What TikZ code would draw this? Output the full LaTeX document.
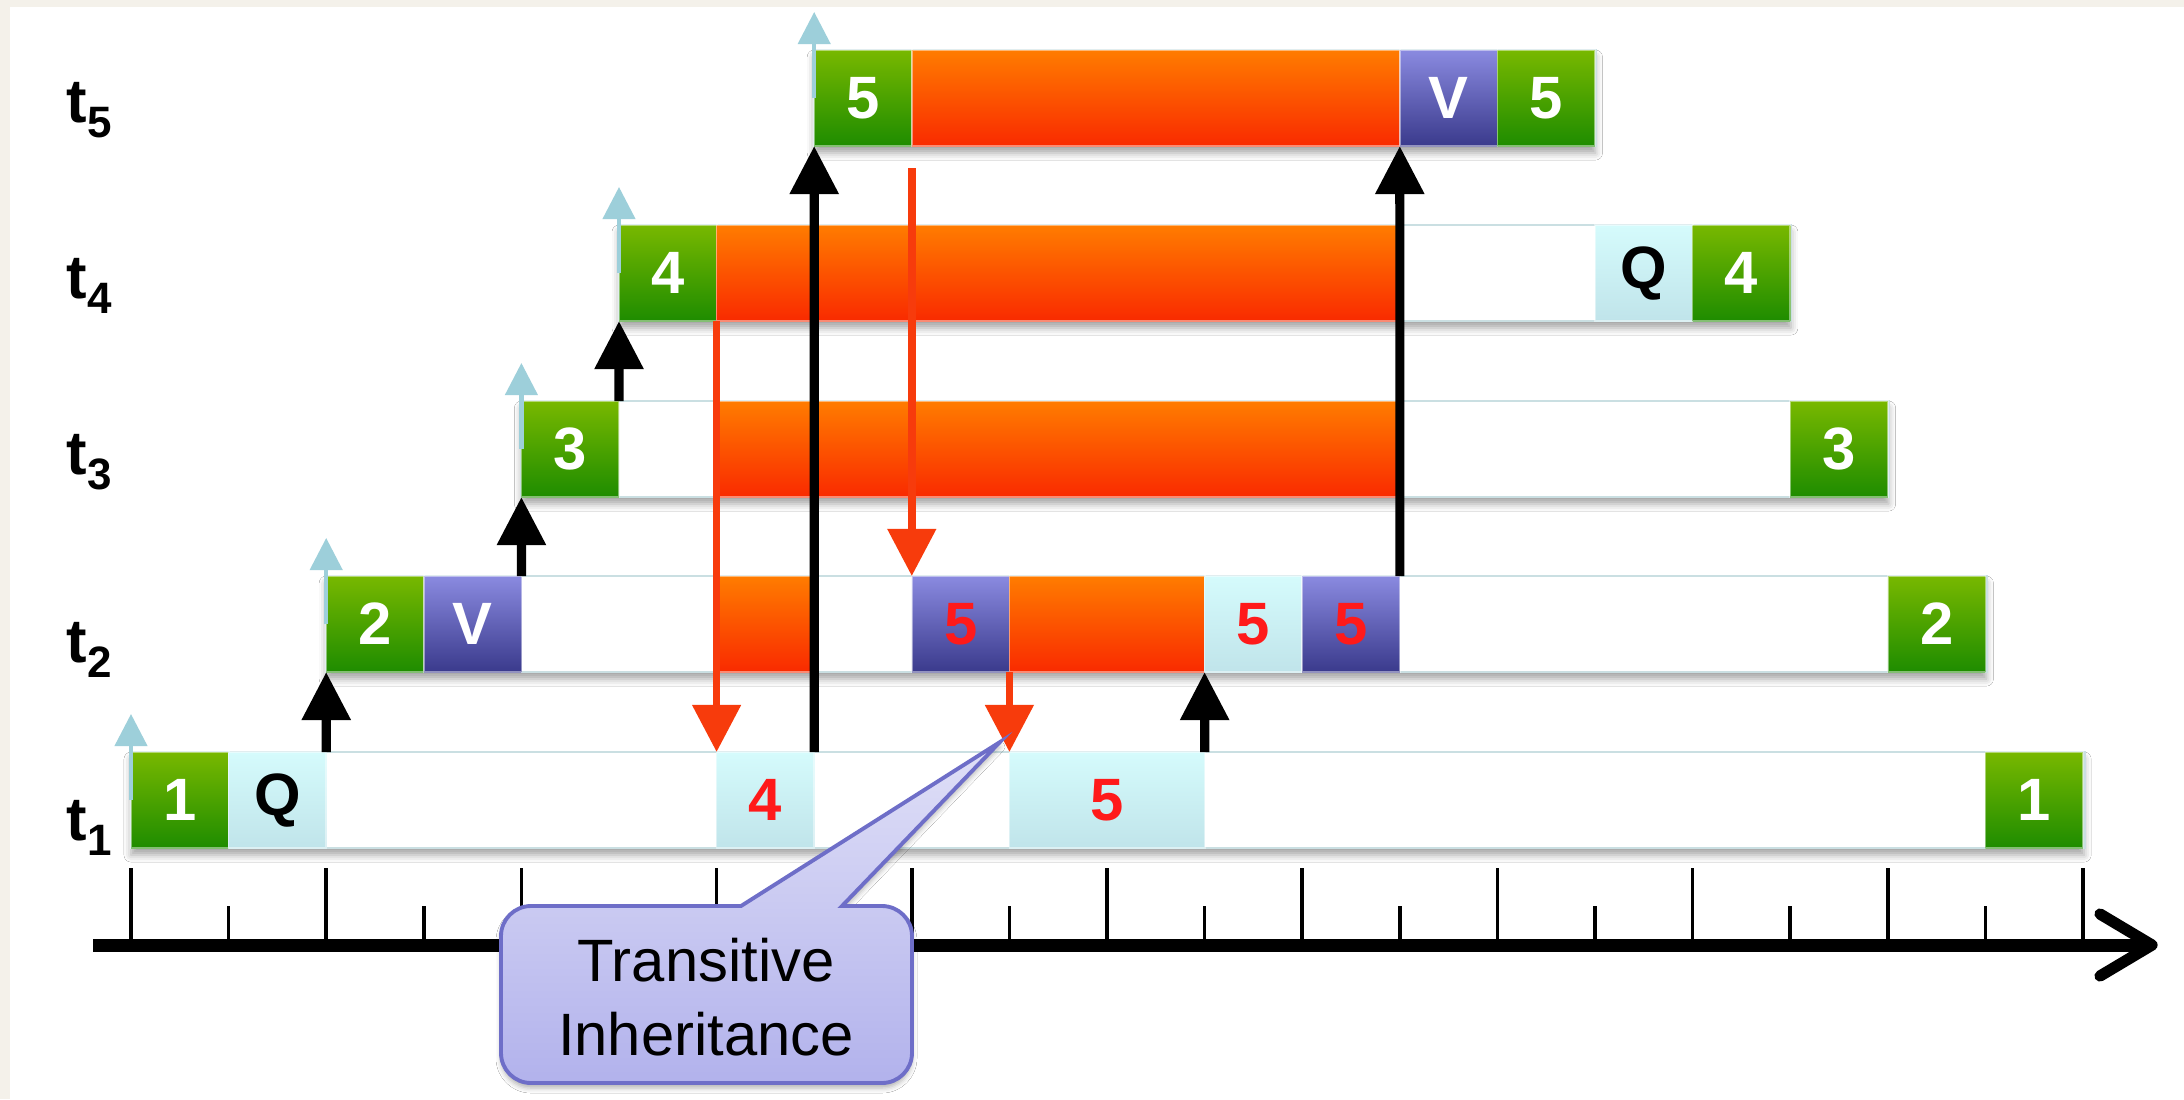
\documentclass[tikz,border=0pt]{standalone}
\usepackage{fontspec}
\setmainfont{Liberation Sans}
\usetikzlibrary{arrows.meta,shadows,shadows.blur}

\definecolor{cream}{HTML}{F4F1EA}
\definecolor{rowline}{HTML}{CADFE2}
\definecolor{greenT}{HTML}{78B800}
\definecolor{greenB}{HTML}{1E8C00}
\definecolor{blueT}{HTML}{8A8AE0}
\definecolor{blueB}{HTML}{3A3A8C}
\definecolor{orangeT}{HTML}{FF7C00}
\definecolor{orangeB}{HTML}{F92A00}
\definecolor{cyanT}{HTML}{D5FBFC}
\definecolor{cyanB}{HTML}{C0E4EA}
\definecolor{redtxt}{HTML}{FF1A1A}
\definecolor{arrowred}{HTML}{F73B0C}
\definecolor{arrowcyan}{HTML}{9DCFDA}
\definecolor{noteT}{HTML}{E0E0F7}
\definecolor{noteB}{HTML}{B2B2EC}
\definecolor{noteline}{HTML}{6E6EC8}

% a cell of a row: name, top y, first tick, last tick, style, text
\newcommand\cellnode[6]{%
  \node[#5, minimum width={(#4-#3)*0.976cm}] (#1) at ({131+97.6*#3},#2) {#6};}
\newcommand\sub[1]{\raisebox{-0.15cm}{\fontsize{12.5}{12.5}\selectfont #1}}

\begin{document}
\begin{tikzpicture}[x=0.01cm,y=-0.01cm,
  rowbar/.style={anchor=north west, minimum height=0.96cm, inner sep=0pt, outer sep=0pt,
    fill=white, draw=rowline, line width=0.8pt,
    blur shadow={shadow xshift=0pt, shadow yshift=-0.07cm, shadow blur radius=0.07cm, shadow opacity=35}},
  blk/.style={anchor=north west, minimum height=0.96cm, inner sep=0pt, outer sep=0pt,
    draw=white, draw opacity=0.45, line width=0.5pt,
    font=\bfseries\fontsize{17}{17}\selectfont},
  gblk/.style={blk, top color=greenT, bottom color=greenB, text=white},
  vblk/.style={blk, top color=blueT, bottom color=blueB, text=white},
  rvblk/.style={blk, top color=blueT, bottom color=blueB, text=redtxt},
  oblk/.style={blk, top color=orangeT, bottom color=orangeB},
  qblk/.style={blk, top color=cyanT, bottom color=cyanB, text=black},
  rqblk/.style={blk, top color=cyanT, bottom color=cyanB, text=redtxt},
  lbl/.style={anchor=base west, inner sep=0pt, font=\bfseries\fontsize{17.5}{17.5}\selectfont},
  blackup/.style={line width=2.6pt, -{Triangle[width=0.47cm,length=0.48cm]}},
  reddown/.style={arrowred, line width=2.2pt, -{Triangle[width=0.47cm,length=0.47cm]}},
  cyanup/.style={arrowcyan, line width=1.2pt, -{Triangle[width=0.32cm,length=0.32cm]}},
  note/.style={top color=noteT, bottom color=noteB, draw=noteline, line width=1.1pt,
    blur shadow={shadow xshift=0pt, shadow yshift=-0.05cm, shadow blur radius=0.05cm, shadow opacity=30}},
  ticklong/.style={line width=1pt},
]
\useasboundingbox (0,0) rectangle (2184,1099);
\fill[cream] (0,0) rectangle (2184,1099);
\fill[white] (10,7) rectangle (2184,1099);

% thread labels
\node[lbl] (lab5) at (66,122) {t\sub{5}};
\node[lbl] (lab4) at (66,298) {t\sub{4}};
\node[lbl] (lab3) at (66,474) {t\sub{3}};
\node[lbl] (lab2) at (66,662) {t\sub{2}};
\node[lbl] (lab1) at (66,840) {t\sub{1}};

% row outlines
\cellnode{row1}{752}{0}{20}{rowbar}{}
\cellnode{row2}{576}{2}{19}{rowbar}{}
\cellnode{row3}{401}{4}{18}{rowbar}{}
\cellnode{row4}{225}{5}{17}{rowbar}{}
\cellnode{row5}{50}{7}{15}{rowbar}{}

% thread t1
\cellnode{g1a}{752}{0}{1}{gblk}{1}
\cellnode{q1}{752}{1}{2}{qblk}{Q}
\cellnode{c14}{752}{6}{7}{rqblk}{4}
\cellnode{c15}{752}{9}{11}{rqblk}{5}
\cellnode{g1b}{752}{19}{20}{gblk}{1}

% thread t2
\cellnode{g2a}{576}{2}{3}{gblk}{2}
\cellnode{v2}{576}{3}{4}{vblk}{V}
\cellnode{o2a}{576}{6}{7}{oblk}{}
\cellnode{b25a}{576}{8}{9}{rvblk}{5}
\cellnode{o2b}{576}{9}{11}{oblk}{}
\cellnode{c25}{576}{11}{12}{rqblk}{5}
\cellnode{b25b}{576}{12}{13}{rvblk}{5}
\cellnode{g2b}{576}{18}{19}{gblk}{2}

% thread t3
\cellnode{g3a}{401}{4}{5}{gblk}{3}
\cellnode{o3}{401}{6}{13}{oblk}{}
\cellnode{g3b}{401}{17}{18}{gblk}{3}

% thread t4
\cellnode{g4a}{225}{5}{6}{gblk}{4}
\cellnode{o4}{225}{6}{13}{oblk}{}
\cellnode{q4}{225}{15}{16}{qblk}{Q}
\cellnode{g4b}{225}{16}{17}{gblk}{4}

% thread t5
\cellnode{g5a}{50}{7}{8}{gblk}{5}
\cellnode{o5}{50}{8}{13}{oblk}{}
\cellnode{v5}{50}{13}{14}{vblk}{V}
\cellnode{g5b}{50}{14}{15}{gblk}{5}

% thread start markers
\foreach \g in {g1a,g2a,g3a,g4a,g5a}
  \draw[cyanup] (\g.west) -- ([yshift=0.38cm]\g.north west);

% inheritance arrows
\coordinate (r2s) at ([yshift=-0.22cm]o5.south west);
\draw[reddown] (o4.south west) -- (c14.north west);
\draw[reddown] (r2s) -- (b25a.north west);
\draw[reddown] (o2b.south west) -- (c15.north west);

% fork arrows
\draw[blackup] (q1.north east) -- (g2a.south west);
\draw[blackup] (v2.north east) -- (g3a.south west);
\draw[blackup] (g3a.north east) -- (g4a.south west);
\draw[blackup] (c14.north east) -- (g5a.south west);
\draw[blackup] (b25b.north east) -- (v5.south west);
\draw[blackup] (c15.north east) -- (c25.south west);

% time axis
\coordinate (ax0) at (93,945);
\coordinate (ax1) at (2144,945);
\draw[line width=3.7pt] (ax0) -- (ax1);
\draw[line width=3.2pt, line cap=round, line join=round] (2100,914) -- (2152,945) -- (2100,976);
\foreach \i in {0,2,...,20} \draw[ticklong] ({131+97.6*\i},868) -- ({131+97.6*\i},945);
\foreach \i in {1,3,...,19} \draw[ticklong] ({131+97.6*\i},906) -- ({131+97.6*\i},945);

% callout
\coordinate (tipc) at (1000,742);
\path[note] (741,906) -- (tipc) -- (842,906) -- (882,906)
  arc[start angle=-90, end angle=0, radius=30] -- (912,1053)
  arc[start angle=0, end angle=90, radius=30] -- (531,1083)
  arc[start angle=90, end angle=180, radius=30] -- (501,936)
  arc[start angle=180, end angle=270, radius=30] -- cycle;
\node[align=center, font=\fontsize{17}{21}\selectfont, inner sep=0pt] (notetext) at (706,997)
  {Transitive\\Inheritance};
\end{tikzpicture}
\end{document}
